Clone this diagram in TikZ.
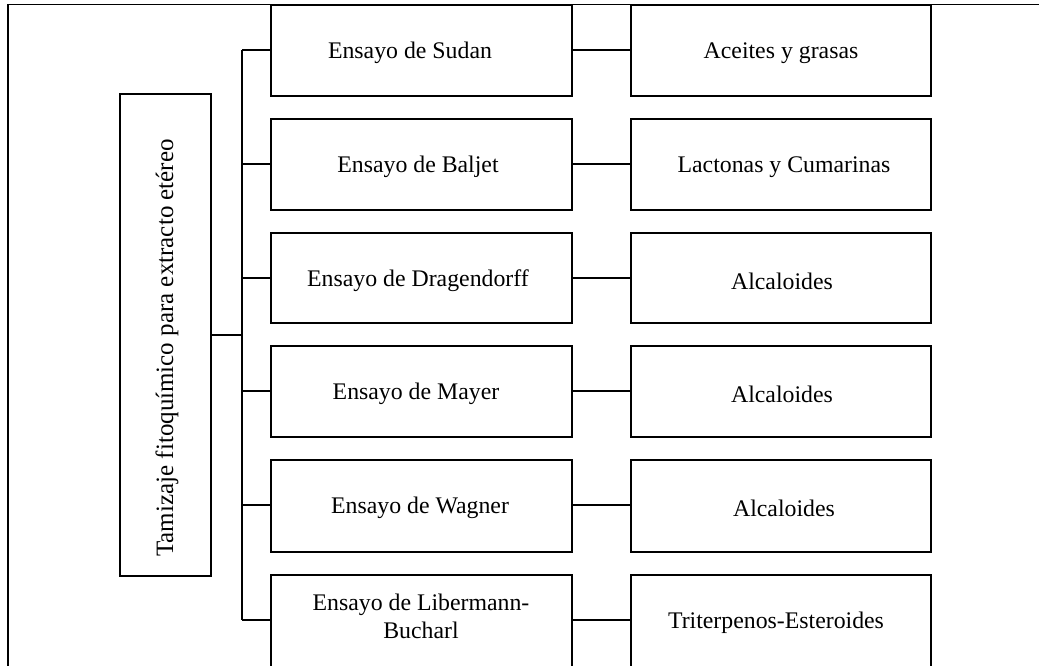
\documentclass[tikz,border=0pt]{standalone}
\usepackage{fontspec}
\setmainfont{Liberation Serif}
\begin{document}
\begin{tikzpicture}[x=1pt,y=-1pt,
  box/.style={draw=black,line width=2.6pt,fill=white,inner sep=0pt,outer sep=0pt},
  lbl/.style={font=\fontsize{23.8}{28}\selectfont,align=center},
  conn/.style={draw=black,line width=2.2pt},
  frame/.style={draw=black,line width=1.6pt}]
\useasboundingbox (0,0) rectangle (1039,666);
\clip (0,0) rectangle (1039,666);
\fill[white] (0,0) rectangle (1039,666);
% frame
\draw[frame] (8,666) -- (8,4.7) -- (1039,4.7);
% left box
\draw[box] (120,94) rectangle (211,576);
\coordinate (L) at (211,335);
\node[font=\fontsize{25}{29}\selectfont,rotate=90] (ltext) at (167,348) {Tamizaje fitoquímico para extracto etéreo};
% bus
\coordinate (bt) at (242,50);
\coordinate (bb) at (242,620);
\coordinate (bl) at (242,335);
\draw[conn] (bt) -- (bb);
\draw[conn] (L) -- (bl);
% boxes
\foreach \t/\b in {5/96,119/210,233/323,346/437,460/552,575/690}{
  \draw[box] (271,\t) rectangle (572,\b);
  \draw[box] (631,\t) rectangle (931,\b);
}
% connectors and labels
\foreach \n/\y/\a/\r/\ax/\rx in {
  s/50/Ensayo de Sudan/Aceites y grasas/410/781,
  b/164/Ensayo de Baljet/Lactonas y Cumarinas/418/784,
  d/278/Ensayo de Dragendorff/Alcaloides/418/782,
  m/391/Ensayo de Mayer/Alcaloides/416/782,
  w/505/Ensayo de Wagner/Alcaloides/420/784}{
  \coordinate (A\n) at (271,\y);
  \coordinate (B\n) at (572,\y);
  \coordinate (C\n) at (631,\y);
  \coordinate (G\n) at (242,\y);
  \draw[conn] (G\n) -- (A\n);
  \draw[conn] (B\n) -- (C\n);
  \node[lbl] (t\n) at (\ax,\y+3) {\a};
  \node[lbl] (r\n) at (\rx,\y+3) {\r};
}
\coordinate (Al) at (271,620);
\coordinate (Bl) at (572,620);
\coordinate (Cl) at (631,620);
\draw[conn] (bb) -- (Al);
\draw[conn] (Bl) -- (Cl);
\node[lbl] (tl) at (421,616) {Ensayo de Libermann-\\Bucharl};
\node[lbl] (rl) at (776,623) {Triterpenos-Esteroides};
\end{tikzpicture}
\end{document}
